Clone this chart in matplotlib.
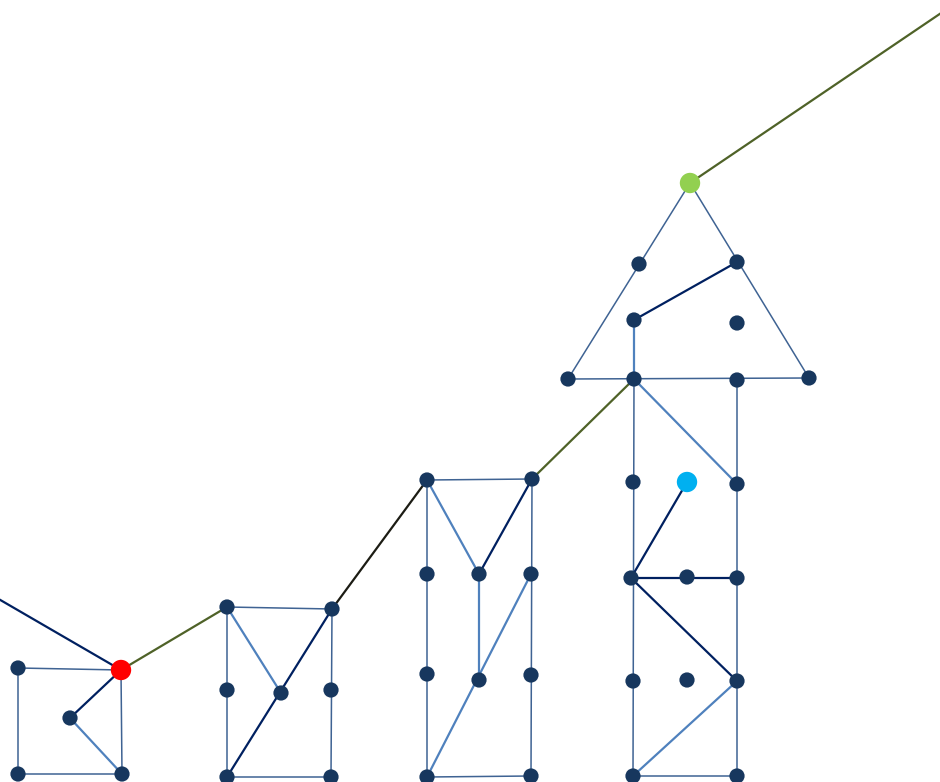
import matplotlib
matplotlib.use("Agg")
import matplotlib.pyplot as plt

# node positions (pixel coords of the drawing, y grows downward)
node_names = [
    "A1", "R", "A3", "A4", "A5",
    "B1", "B2", "B3", "B4", "B5", "B6", "B7",
    "C1", "C2", "C3", "C4", "C5", "C6", "C7", "C8", "C9", "C10",
    "G", "T1", "T2", "T3", "T4", "T5", "T6",
    "D1", "D2", "D3", "CY", "D4", "D5", "D6", "D7", "D8", "D9", "D10", "D11", "D12",
    "OUT_L", "OUT_R",
]
node_x = [
    18, 121, 70, 18, 122,
    227, 332, 227, 281, 331, 227, 331,
    427, 532, 427, 479, 531, 427, 479, 531, 427, 531,
    690, 639, 737, 634, 737, 568, 809,
    634, 737, 633, 687, 737, 631, 687, 737, 633, 687, 737, 633, 737,
    -10, 950,
]
node_y = [
    668, 670, 718, 774, 774,
    607, 609, 690, 693, 690, 777, 777,
    480, 479, 574, 574, 574, 674, 680, 675, 777, 776,
    183, 264, 262, 320, 323, 379, 378,
    379, 380, 482, 482, 484, 578, 577, 578, 681, 680, 681, 776, 776,
    594, 7,
]
special_nodes = {"R": "#ff0000", "G": "#92d050", "CY": "#00b0f0"}
hidden_nodes = ["OUT_L", "OUT_R"]

# edges grouped by line style
frame_edges = [
    ("A1", "R"), ("A1", "A4"), ("A4", "A5"), ("R", "A5"),
    ("B1", "B2"), ("B1", "B6"), ("B2", "B7"), ("B6", "B7"),
    ("C1", "C2"), ("C1", "C9"), ("C2", "C10"), ("C9", "C10"),
    ("G", "T5"), ("G", "T6"), ("T5", "T6"),
    ("D1", "D11"), ("D2", "D12"), ("D11", "D12"),
]
light_edges = [
    ("A3", "A5"), ("B1", "B4"), ("C1", "C4"), ("C4", "C7"),
    ("C5", "C9"), ("T3", "D1"), ("D1", "D4"), ("D10", "D11"),
]
navy_edges = [
    ("OUT_L", "R"), ("R", "A3"), ("B2", "B6"), ("C2", "C4"),
    ("T2", "T3"), ("CY", "D5"), ("D5", "D7"), ("D5", "D10"),
]
olive_edges = [("R", "B1"), ("C2", "D1"), ("G", "OUT_R")]
black_edges = [("B2", "C1")]

pos = {n: (x, y) for n, x, y in zip(node_names, node_x, node_y)}

fig = plt.figure(figsize=(9.4, 7.82), dpi=100)
ax = fig.add_axes([0, 0, 1, 1])
ax.set_xlim(0, 940)
ax.set_ylim(782, 0)
ax.axis("off")

styles = [
    (frame_edges, "#3f6393", 1.1),
    (light_edges, "#4f81bd", 1.6),
    (navy_edges, "#002060", 1.6),
    (olive_edges, "#4f6228", 1.6),
    (black_edges, "#1c1c14", 1.6),
]
for edges, color, lw in styles:
    for a, b in edges:
        ax.plot([pos[a][0], pos[b][0]], [pos[a][1], pos[b][1]],
                color=color, lw=lw, zorder=1, solid_capstyle="butt")

# plain nodes
plain = [n for n in node_names if n not in special_nodes and n not in hidden_nodes]
ax.scatter([pos[n][0] for n in plain], [pos[n][1] for n in plain],
           s=120, color="#17375e", edgecolors="none", zorder=3)

for n, c in special_nodes.items():
    ax.scatter([pos[n][0]], [pos[n][1]], s=215, color=c, edgecolors="none", zorder=4)

fig.savefig("out.png", dpi=100)
